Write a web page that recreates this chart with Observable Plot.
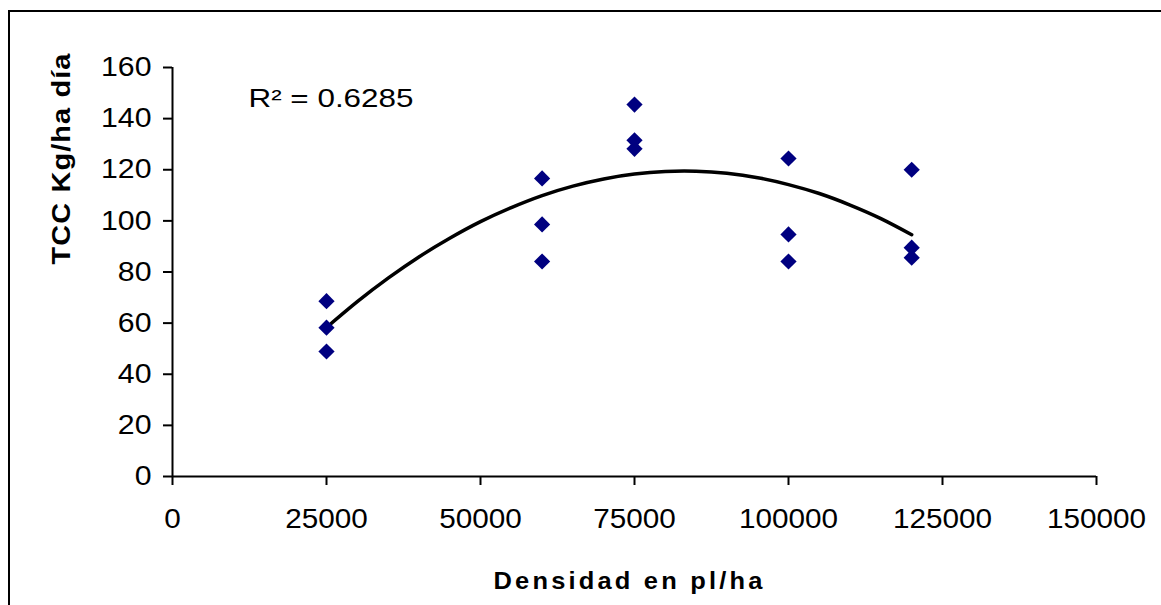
<!DOCTYPE html>
<html>
<head>
<meta charset="utf-8">
<script src="https://cdn.jsdelivr.net/npm/d3@7"></script>
<script src="https://cdn.jsdelivr.net/npm/@observablehq/plot@0.6"></script>
<style>
  html, body { margin: 0; padding: 0; background: #fff; overflow: hidden; }
  #wrap { position: relative; width: 1161px; height: 605px; }
  #frame { position: absolute; left: 8px; top: 10px; width: 2000px; height: 2000px;
           border-left: 2.5px solid #000; border-top: 2.5px solid #000; box-sizing: border-box; }
  #chart { position: absolute; left: 0; top: 0; }
  svg { font-family: "Liberation Sans", Arial, sans-serif; }
</style>
</head>
<body>
<div id="wrap"><div id="frame"></div><div id="chart"></div></div>
<script>
// Plant density (plants/ha) and crop growth rate (TCC, kg/ha per day)
const density = [25000, 25000, 25000, 60000, 60000, 60000, 75000, 75000, 75000,
                 100000, 100000, 100000, 120000, 120000, 120000];
const tcc = [68.6, 58.2, 48.9, 116.6, 98.6, 84.1, 145.5, 131.5, 128.2,
             124.4, 94.7, 84.1, 120.0, 89.5, 85.6];

// Polynomial trend line, sampled along the density range
const trendDensity = [25000, 30000, 35000, 40000, 45000, 50000, 55000, 60000, 65000, 70000,
                      75000, 80000, 85000, 90000, 95000, 100000, 105000, 110000, 115000, 120000];
const trendTcc = [58.3, 68.4, 77.6, 85.9, 93.2, 99.7, 105.2, 109.9, 113.6, 116.4,
                  118.3, 119.3, 119.4, 118.6, 116.9, 114.2, 110.7, 106.2, 100.9, 94.6];

const xTicks = [0, 25000, 50000, 75000, 100000, 125000, 150000];
const yTicks = [0, 20, 40, 60, 80, 100, 120, 140, 160];
const r2Label = "R² = 0.6285";
const xTitle = "Densidad en pl/ha";
const yTitle = "TCC Kg/ha día";

const points = density.map((d, i) => ({density: d, tcc: tcc[i]}));
const trend = trendDensity.map((d, i) => ({density: d, tcc: trendTcc[i]}));

const chart = Plot.plot({
  width: 1161,
  height: 605,
  marginLeft: 172,
  marginRight: 65,
  marginTop: 67,
  marginBottom: 129,
  style: {background: "transparent", color: "#000", fontFamily: "Liberation Sans, Arial, sans-serif"},
  x: {domain: [0, 150000]},
  y: {domain: [0, 160]},
  marks: [
    Plot.axisX({ticks: xTicks, tickFormat: d => String(d), tickSize: 9, tickPadding: 23,
                strokeWidth: 2, fontSize: 27, label: null}),
    Plot.axisY({ticks: yTicks, tickFormat: d => String(d), tickSize: 9, tickPadding: 12,
                strokeWidth: 2, fontSize: 27, label: null}),
    Plot.ruleY([0], {stroke: "#000", strokeWidth: 2}),
    Plot.ruleX([0], {stroke: "#000", strokeWidth: 2}),
    Plot.line(trend, {x: "density", y: "tcc", curve: "natural", stroke: "#000", strokeWidth: 3.5}),
    Plot.dot(points, {x: "density", y: "tcc", symbol: "diamond2", r: 7.3, fill: "#000080", stroke: "none"}),
    Plot.text([r2Label], {frameAnchor: "top-left", text: d => d, textAnchor: "start", lineAnchor: "top",
                          dx: 76, dy: 21, fontSize: 25.5, fill: "#000"}),
    Plot.text([xTitle], {frameAnchor: "bottom", text: d => d, lineAnchor: "middle",
                         dx: -5, dy: 105, fontSize: 24, fontWeight: "bold", fill: "#000"}),
    Plot.text([yTitle], {frameAnchor: "left", text: d => d, lineAnchor: "middle", rotate: -90,
                         dx: -111, dy: -7.5, fontSize: 26, fontWeight: "bold", fill: "#000"})
  ]
});

document.getElementById("chart").appendChild(chart);

// Widen the text runs the way the chart's fonts are set
function widen(texts, target, adjust, spacing = 0) {
  texts.forEach(t => {
    if (spacing) t.style.letterSpacing = spacing + "px";
    const w = t.getComputedTextLength();
    const len = typeof target === "function" ? target(w) : target;
    t.setAttribute("textLength", len);
    t.setAttribute("lengthAdjust", adjust);
  });
}
const allTexts = Array.from(chart.querySelectorAll("text"));
const byContent = s => allTexts.filter(t => t.textContent === s);
widen(Array.from(chart.querySelectorAll('[aria-label$="x-axis tick label"] text')), w => w * 1.1, "spacingAndGlyphs");
widen(Array.from(chart.querySelectorAll('[aria-label$="y-axis tick label"] text')), w => w * 1.12, "spacingAndGlyphs");
widen(byContent(r2Label), 165, "spacingAndGlyphs");
widen(byContent(xTitle), 272, "spacingAndGlyphs", 3);
widen(byContent(yTitle), 212, "spacingAndGlyphs", 1);
</script>
</body>
</html>
